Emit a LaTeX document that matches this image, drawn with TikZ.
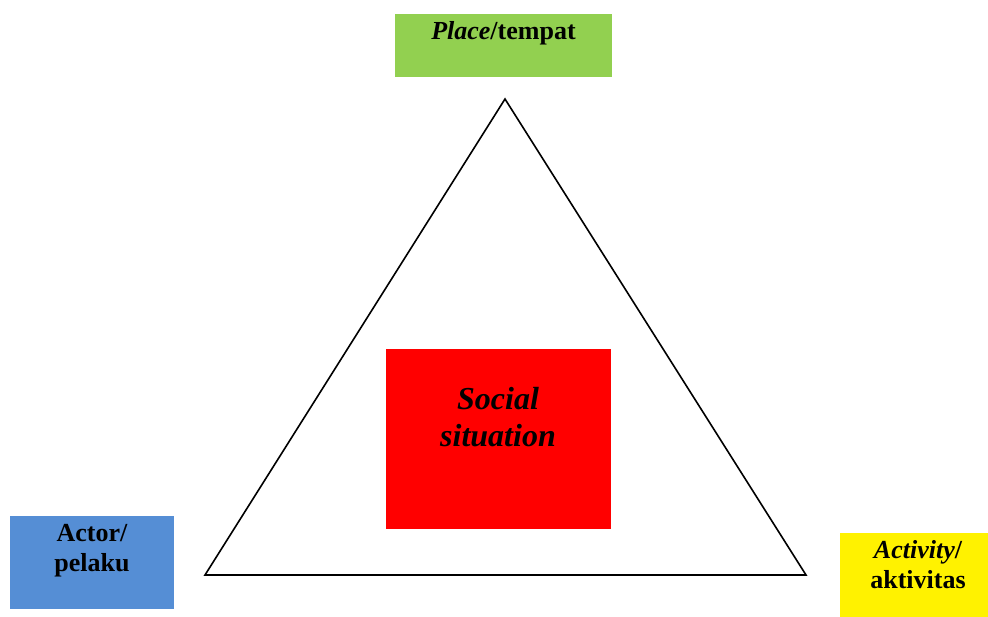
\documentclass[tikz,border=0pt]{standalone}
\usepackage{fontspec}
\setmainfont{Liberation Serif}
\usetikzlibrary{positioning}
\definecolor{placegreen}{HTML}{92D050}
\definecolor{actorblue}{HTML}{558ED5}

\begin{document}
\begin{tikzpicture}[
    x=1pt, y=-1pt,
    box/.style={rectangle, draw=none, inner sep=0pt, anchor=north west},
    boxlabel/.style={font=\fontsize{26}{30}\selectfont\bfseries, align=center, inner sep=0pt, anchor=north},
    centerlabel/.style={font=\fontsize{32}{37}\selectfont\bfseries\itshape, align=center, inner sep=0pt, anchor=north}
]
\useasboundingbox (0,0) rectangle (988,617);

% triangle
\coordinate (apex) at (505,99);
\coordinate (left) at (205,575);
\coordinate (right) at (806,575);
\draw[line width=1.6pt, line join=miter] (apex) -- (left) -- (right) -- cycle;

\node[box, fill=placegreen, minimum width=217pt, minimum height=63pt] (place) at (395,14) {};
\node[boxlabel] (placetext) at (503.5,21) {\textit{Place}/tempat};

\node[box, fill=red, minimum width=225pt, minimum height=180pt] (social) at (386,349) {};
\node[centerlabel] (socialtext) at (498,387) {Social\\situation};

\node[box, fill=actorblue, minimum width=164pt, minimum height=93pt] (actor) at (10,516) {};
\node[boxlabel] (actortext) at (92,524) {Actor/\\pelaku};

\node[box, fill=yellow, minimum width=148pt, minimum height=84pt] (activity) at (840,533) {};
\node[boxlabel] (activitytext) at (918,540) {\textit{Activity}/\\aktivitas};

\end{tikzpicture}
\end{document}
